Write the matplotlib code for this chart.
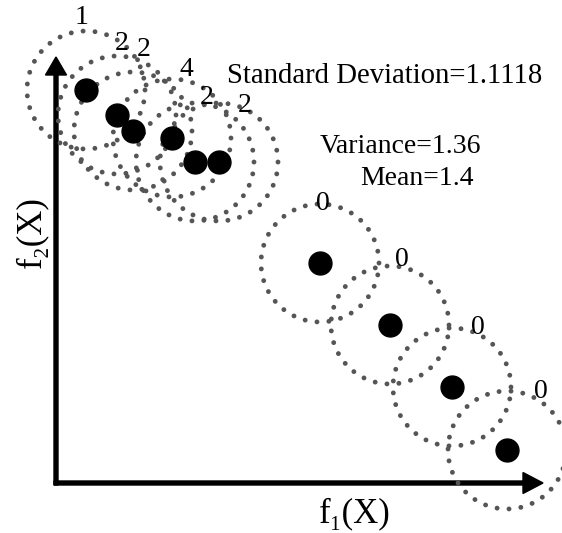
import numpy as np
import matplotlib
matplotlib.use("Agg")
import matplotlib.pyplot as plt

plt.rcParams['font.family'] = ['Liberation Serif', 'DejaVu Serif']

# solutions in objective space (drawn in a 562 x 533 canvas, y pointing down)
f1 = [86, 117, 133, 172, 195, 219, 320, 390, 452, 507]
f2 = [90, 115, 131, 138, 162, 162, 263, 325, 387, 450]
# number of neighbours inside each niche
conteos = [1, 2, 2, 4, 2, 2, 0, 0, 0, 0]

desv_txt = "Standard Deviation=1.1118"
var_txt = "Variance=1.36"
media_txt = "Mean=1.4"

# layout
radio = 59
offsets = [(-4, -72), (5, -72), (11, -81), (14, -68), (12, -64),
           (26, -57), (3, -60), (12, -65), (26, -59), (34, -59)]
origen = (56, 483)

fig = plt.figure(figsize=(5.62, 5.33), dpi=100)
ax = fig.add_axes([0, 0, 1, 1])
ax.set_xlim(0, 562)
ax.set_ylim(533, 0)
ax.axis("off")

# niches (dotted circles)
t = np.linspace(0, 2 * np.pi, 400)
for x, y in zip(f1, f2):
    ax.plot(x + radio * np.cos(t), y + radio * np.sin(t), color="#555555",
            lw=3.5, linestyle=(0, (0.01, 2.45)), dash_capstyle="round", zorder=2)

# points
ax.plot(f1, f2, "o", color="black", markersize=16.5, zorder=3)

# counts
for x, y, c, (dx, dy) in zip(f1, f2, conteos, offsets):
    ax.text(x + dx, y + dy, str(c), fontsize=20, ha="center", va="center", zorder=4)

# axes with arrows
ax.arrow(origen[0], origen[1] + 2, 0, 57 - origen[1] - 2, width=4, head_width=21,
         head_length=18, length_includes_head=True, color="black", zorder=1)
ax.arrow(origen[0] - 2, origen[1], 543 - origen[0] + 2, 0, width=4, head_width=21,
         head_length=20, length_includes_head=True, color="black", zorder=1)

ax.text(355, 514, "f\u2081(X)", fontsize=25, ha="center", va="center")
ax.text(32, 232, "f\u2082(X)", fontsize=25, ha="center", va="center", rotation=90)

# statistics
ax.text(227, 83, desv_txt, fontsize=20.7, ha="left", va="baseline")
ax.text(320, 153, var_txt, fontsize=20, ha="left", va="baseline")
ax.text(360, 185, media_txt, fontsize=20, ha="left", va="baseline")

fig.savefig("out.png", dpi=100)
